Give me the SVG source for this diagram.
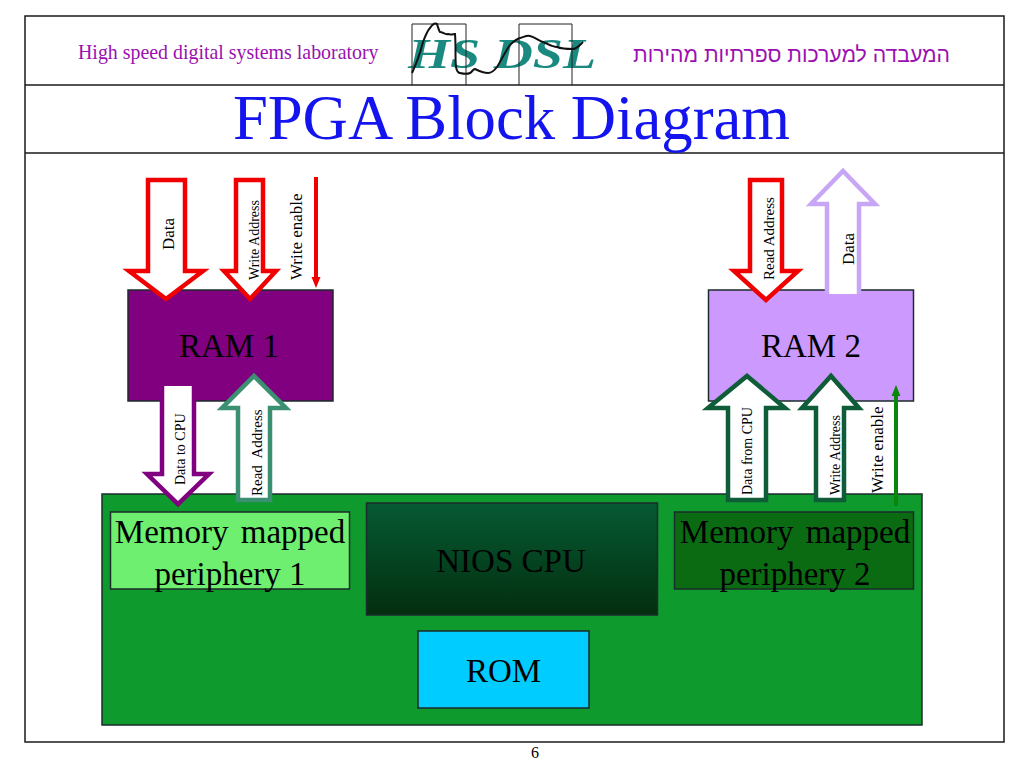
<svg xmlns="http://www.w3.org/2000/svg" width="1024" height="768" viewBox="0 0 1024 768">
<style>
text{font-family:"Liberation Serif","Times New Roman",serif;fill:#000}
.block{stroke:#1c2b2b;stroke-width:1.5}
.lbl{font-size:33px;text-anchor:middle}
.wide{word-spacing:4px}
.sm{font-size:14px;white-space:pre}
.md{font-size:17px}
.arrow{fill:#fff;stroke-width:4.5;stroke-miterlimit:10}
.red{stroke:#f00000}.pur{stroke:#800080}.teal{stroke:#3a9070}.lil{stroke:#c8a6f6}.dg{stroke:#0f5c38}
.frame{fill:none;stroke:#1a1a1a;stroke-width:1.5}
</style>
<defs>
<linearGradient id="cpu" x1="0" y1="0" x2="0" y2="1"><stop offset="0" stop-color="#065a34"/><stop offset="1" stop-color="#032e0e"/></linearGradient>
</defs>
<rect width="1024" height="768" fill="#fff"/>
<g id="frame">
<rect class="frame" x="25" y="16" width="979" height="726"/>
<line class="frame" x1="25" y1="85" x2="1004" y2="85"/>
<line class="frame" x1="25" y1="153" x2="1004" y2="153"/>
</g>
<g id="header">
<text x="78" y="59" font-size="19.900" style="fill:#9a10b0">High speed digital systems laboratory</text>
<text x="950" y="62" font-size="21.200" direction="rtl" style="font-family:'Liberation Sans',Arial,sans-serif;fill:#9a10b0">המעבדה למערכות ספרתיות מהירות</text>
<text x="511.500" y="139" font-size="62.700" text-anchor="middle" style="fill:#1414ee">FPGA Block Diagram</text>
<text x="535" y="758" font-size="16" text-anchor="middle">6</text>
</g>
<g id="logo">
<text x="408" y="68" font-size="43" font-weight="bold" font-style="italic" textLength="188" lengthAdjust="spacingAndGlyphs" style="fill:#1a8a80">HS DSL</text>
<path d="M412,24H466V85M412,24V85M519,24H572V85M519,24V85" fill="none" stroke="#222" stroke-width="1"/>
<path d="M412,73C417,62 421,50 423,42C426,34 428,30 430,28C433,23 436,23 437,24C438,27 439,31 440,32C443,32 445,35 448,34C451,35 453,34 455,34C456,45 455,58 456,67C457,72 458,73 460,73C464,74 468,74 470,73C472,72 473,69 475,69C479,71 483,73 488,73C491,73 494,71 497,67C502,59 506,50 510,45C514,41 517,39 520,38C524,37 527,35 530,36C535,37 539,41 543,42C548,44 552,47 557,47C562,49 568,49 573,49C577,49 580,45 583,42" fill="none" stroke="#111" stroke-width="2"/>
</g>
<g id="ram1"><rect class="block" x="128" y="290" width="205" height="111" fill="#800080"/><text class="lbl" x="229" y="357">RAM 1</text></g>
<g id="ram2"><rect class="block" x="708.500" y="290" width="205" height="111" fill="#cc99ff"/><text class="lbl" x="811" y="357">RAM 2</text></g>
<g id="fpga"><rect class="block" x="102" y="494" width="820" height="231" fill="#0f9a2e"/></g>
<g id="periphery1"><rect class="block" x="110.500" y="512" width="239" height="77" fill="#6fef6f"/><text class="lbl wide" x="230" y="543">Memory mapped</text><text class="lbl" x="230" y="585">periphery 1</text></g>
<g id="periphery2"><rect class="block" x="674.500" y="512" width="239" height="77" fill="#0b6b12"/><text class="lbl wide" x="795" y="543">Memory mapped</text><text class="lbl" x="795" y="585">periphery 2</text></g>
<g id="nios"><rect class="block" x="366.500" y="503" width="291" height="112" fill="url(#cpu)"/><text class="lbl" x="511" y="572">NIOS CPU</text></g>
<g id="rom"><rect class="block" x="418" y="631" width="171" height="77" fill="#00ccff"/><text class="lbl" x="503.500" y="682">ROM</text></g>
<g id="connectors">
<g><path class="arrow red" d="M148,180H185V271H203L166,299L129,271H148Z"/><text class="md" transform="translate(174,250) rotate(-90)">Data</text></g>
<g><path class="arrow red" d="M236,180H263V271H276L250,299L224,271H236Z"/><text class="sm" transform="translate(259,280) rotate(-90)">Write Address</text></g>
<g><path d="M316,177V278" stroke="#f00000" stroke-width="4" fill="none"/><path d="M311.500,277H320.500L316,288Z" fill="#f00000"/><text class="md" transform="translate(302,280) rotate(-90)">Write enable</text></g>
<g><path class="arrow pur" d="M162,386V474H147L178,504L209,474H194V386"/><text class="sm" transform="translate(185,485) rotate(-90)">Data to CPU</text></g>
<g><path class="arrow teal" d="M238,500V408H222L254,376L286,408H270V500Z"/><text class="sm" transform="translate(262,496) rotate(-90)" style="font-size:15px">Read  Address</text></g>
<g><path class="arrow red" d="M750,180H782V271H798L766,300L734,271H750Z"/><text class="sm" transform="translate(774,280) rotate(-90)" style="font-size:15px">Read Address</text></g>
<g><path class="arrow lil" d="M827,294V204H811L843,171L875,204H859V294"/><text class="md" transform="translate(854,265) rotate(-90)">Data</text></g>
<g><path class="arrow dg" d="M728,500V408H708L747,376L785,408H766V500Z"/><text class="sm" transform="translate(752,495) rotate(-90)">Data from CPU</text></g>
<g><path class="arrow dg" d="M816,500V408H802L831,376L859,408H844V500Z"/><text class="sm" transform="translate(840,495) rotate(-90)">Write Address</text></g>
<g><path d="M896,506V395" stroke="#0a860a" stroke-width="4" fill="none"/><path d="M891.500,396H900.500L896,385Z" fill="#0a860a"/><text class="md" transform="translate(883,493) rotate(-90)">Write enable</text></g>
</g>
</svg>
